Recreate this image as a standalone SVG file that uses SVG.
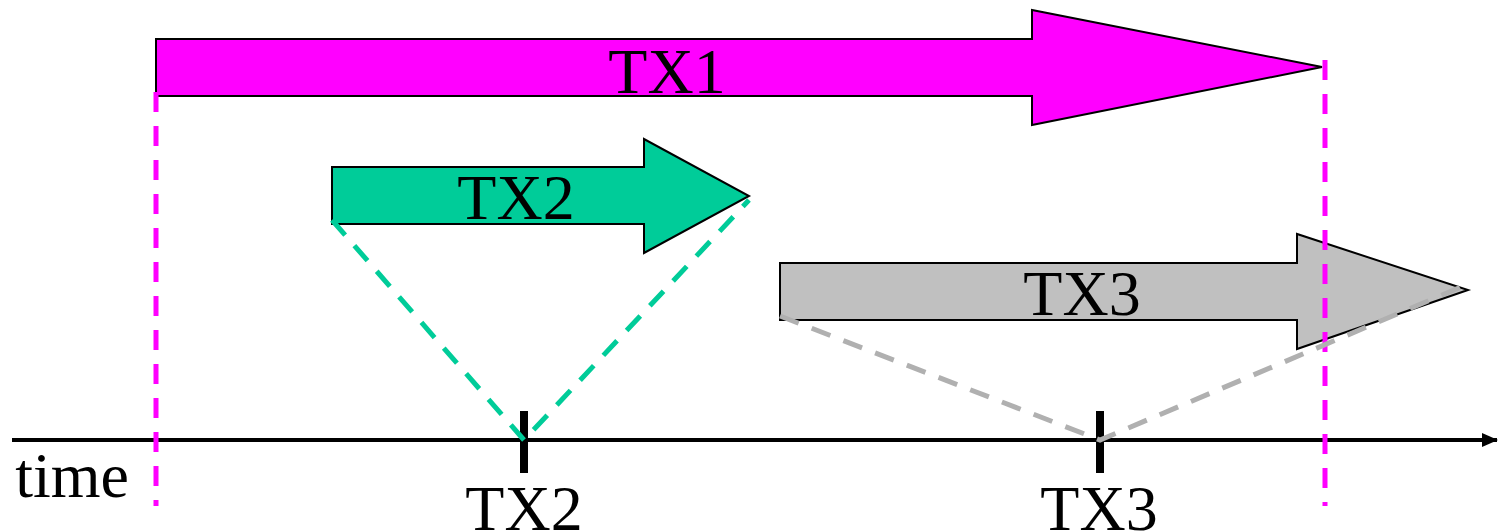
<svg xmlns="http://www.w3.org/2000/svg" width="1498" height="532" viewBox="0 0 1498 532">
<style>
.arrow{stroke:#000;stroke-width:2}
.lbl{font-family:"Liberation Serif","Times New Roman",serif;font-size:64px;fill:#000;text-anchor:middle}
.dash{fill:none;stroke-width:5;stroke-dasharray:20 14}
.tick{stroke:#000;stroke-width:8}
</style>
<defs>
<marker id="axhead" markerWidth="16" markerHeight="14" refX="15" refY="7" orient="auto" markerUnits="userSpaceOnUse">
<path d="M0,0 L16,7 L0,14 Z" fill="#000"/>
</marker>
</defs>
<g id="axis">
<line x1="12" y1="440" x2="1497" y2="440" stroke="#000" stroke-width="4" marker-end="url(#axhead)"/>
<text class="lbl" x="72" y="497">time</text>
</g>
<g id="tick-tx2">
<line class="tick" x1="524" y1="411" x2="524" y2="473"/>
<text class="lbl" x="524" y="530">TX2</text>
</g>
<g id="tick-tx3">
<line class="tick" x1="1100" y1="411" x2="1100" y2="473"/>
<text class="lbl" x="1099" y="530">TX3</text>
</g>
<g id="tx1">
<polygon class="arrow" fill="#ff00ff" points="156,39 1032,39 1032,10 1322,67 1032,125 1032,96 156,96"/>
<text class="lbl" x="667" y="93">TX1</text>
</g>
<g id="tx2">
<polygon class="arrow" fill="#00cc99" points="332,167 644,167 644,139 749,196 644,253 644,224 332,224"/>
<text class="lbl" x="516" y="219">TX2</text>
</g>
<g id="tx3">
<polygon class="arrow" fill="#c0c0c0" points="780,263 1297,263 1297,234 1468,290 1297,349 1297,320 780,320"/>
<text class="lbl" x="1082" y="315">TX3</text>
</g>
<g id="connectors">
<line class="dash" stroke="#ff00ff" x1="156" y1="92" x2="156" y2="506"/>
<line class="dash" stroke="#ff00ff" x1="1325" y1="60" x2="1325" y2="506"/>
<polyline class="dash" stroke="#00cc99" points="332,220 524,440 749,200"/>
<polyline class="dash" stroke="#b0b0b0" points="780,316 1100,440 1468,284"/>
</g>
</svg>
